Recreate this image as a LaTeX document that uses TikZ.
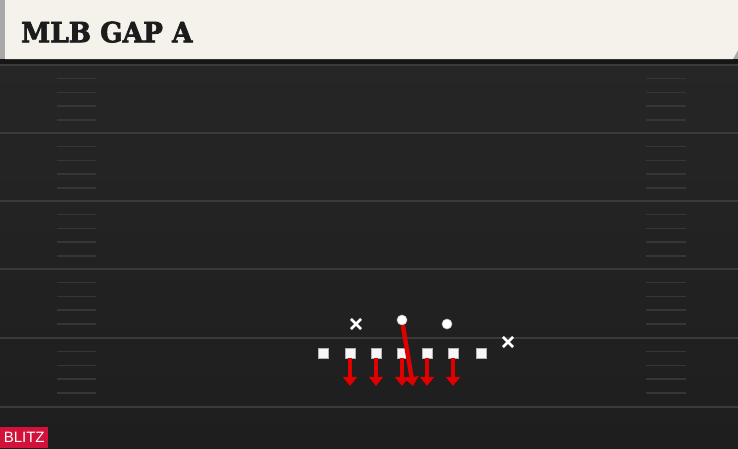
\documentclass[tikz,border=0pt]{standalone}
\usepackage{fontspec}
\newfontfamily\titlefont{DejaVu Serif}[BoldFeatures={FakeBold=2.5}]
\newfontfamily\tagfont{Liberation Sans}
\usetikzlibrary{arrows.meta, shapes.misc, calc}

\definecolor{cream}{HTML}{F5F2EB}
\definecolor{edgegray}{HTML}{A8A8A8}
\definecolor{fieldtop}{HTML}{262626}
\definecolor{fieldbottom}{HTML}{1E1E1E}
\definecolor{shadowblack}{HTML}{161616}
\definecolor{yardline}{HTML}{3A3A3A}
\definecolor{hashgray}{HTML}{363636}
\definecolor{playred}{HTML}{E00000}
\definecolor{blitzred}{HTML}{D2123A}
\definecolor{titleblack}{HTML}{1C1C1C}

\tikzset{
        lineman/.style={rectangle, draw=gray!60, fill=white!94!gray, line width=0.8pt, minimum size=10pt, inner sep=0pt},
        back/.style={circle, draw=gray!50, fill=white, line width=0.6pt, minimum size=10pt, inner sep=0pt},
        defender/.style={cross out, draw=white, line width=2.6pt, minimum size=7.5pt, inner sep=0pt},
        rush/.style={draw=playred, line width=4.5pt, -{Triangle[width=14pt, length=9pt]}}
}

\begin{document}
\begin{tikzpicture}[x=1pt, y=-1pt]
        \useasboundingbox (0,0) rectangle (738,448);
        
        \shade[top color=fieldtop, bottom color=fieldbottom] (0,59) rectangle (738,448);
        \fill[shadowblack] (0,59) rectangle (738,64);
        \fill[edgegray] (0,0) rectangle (738,59);
        \fill[cream] (5,0) -- (738,0) -- (738,50) -- (733,59) -- (5,59) -- cycle;
        \node[anchor=base west, inner sep=0pt, xscale=0.94, text=titleblack, font=\titlefont\bfseries\fontsize{28}{28}\selectfont] (title) at (21,42.3) {MLB GAP A};
        
        \foreach \y in {65,133,201,269,338,407}
                \draw[yardline, line width=2pt] (0,\y) -- (738,\y);
        \foreach \y in {65,133,201,269,338}
                \foreach \k in {1,...,4} {
                        \draw[hashgray, line width=1.5pt] (57,\y+13.7*\k) -- (96,\y+13.7*\k);
                        \draw[hashgray, line width=1.5pt] (646,\y+13.7*\k) -- (686,\y+13.7*\k);
                }
        
        \node[lineman] (LT) at (323,353) {};
        \node[lineman] (LG) at (350,353) {};
        \node[lineman] (C) at (376,353) {};
        \node[lineman] (RG) at (402,353) {};
        \node[lineman] (RT) at (427,353) {};
        \node[lineman] (TE) at (453,353) {};
        \node[lineman] (WR) at (481,353) {};
        \node[back] (MLB) at (402,320) {};
        \node[back] (OLB) at (447,324) {};
        \node[defender] (QB) at (356,324) {};
        \node[defender] (RB) at (508,342) {};
        
        \coordinate (gapA) at (413,386);
        \foreach \p in {LG,C,RG,RT,TE}
                \draw[rush] (\p.south) -- ($(\p.south)+(0,27.5)$);
        \draw[rush] (MLB) -- (gapA);
        
        \node[anchor=south west, fill=blitzred, text=white, inner sep=0pt, minimum width=48pt, minimum height=20.5pt, font=\tagfont\fontsize{15}{15}\selectfont] (blitz) at (0,448) {BLITZ};
        
\end{tikzpicture}
\end{document}
